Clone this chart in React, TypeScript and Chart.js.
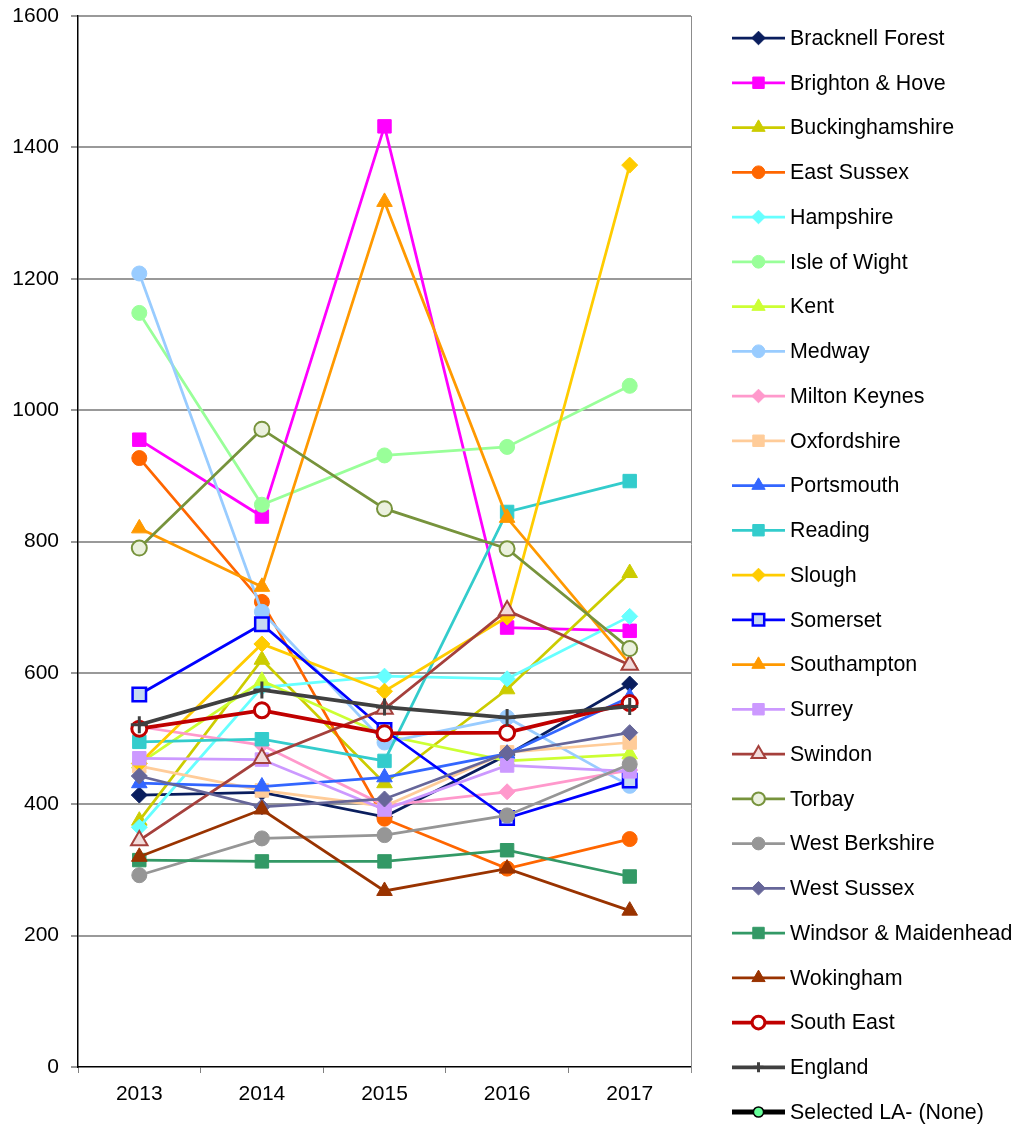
import React, { useEffect, useRef } from 'react';
import { Chart, registerables } from 'chart.js';
import { drawPoint } from 'chart.js/helpers';

Chart.register(...registerables);

// ---------- data ----------
const years = ['2013', '2014', '2015', '2016', '2017'];

const bracknellForest = [414, 418, 381, 475, 583];
const brightonHove = [955, 838, 1432, 669, 664];
const buckinghamshire = [375, 620, 432, 575, 752];
const eastSussex = [927, 708, 378, 302, 347];
const hampshire = [365, 578, 595, 591, 686];
const isleOfWight = [1148, 856, 931, 944, 1037];
const kent = [462, 588, 505, 466, 476];
const medway = [1208, 693, 494, 532, 428];
const miltonKeynes = [518, 490, 398, 419, 452];
const oxfordshire = [458, 421, 397, 479, 494];
const portsmouth = [432, 427, 441, 477, 563];
const reading = [495, 499, 466, 845, 892];
const slough = [462, 644, 572, 685, 1373];
const somerset = [567, 674, 513, 379, 436];
const southampton = [820, 731, 1317, 836, 614];
const surrey = [470, 468, 392, 459, 450];
const swindon = [345, 470, 545, 695, 612];
const torbay = [790, 971, 850, 789, 637];
const westBerkshire = [292, 348, 353, 383, 461];
const westSussex = [443, 396, 408, 478, 509];
const windsorMaidenhead = [315, 313, 313, 330, 290];
const wokingham = [320, 392, 268, 302, 238];
const southEast = [515, 543, 508, 509, 554];
const england = [521, 574, 548, 532, 549];
const selectedLA: (number | null)[] = [null, null, null, null, null];

const seriesNames = [
  'Bracknell Forest', 'Brighton & Hove', 'Buckinghamshire', 'East Sussex', 'Hampshire',
  'Isle of Wight', 'Kent', 'Medway', 'Milton Keynes', 'Oxfordshire', 'Portsmouth',
  'Reading', 'Slough', 'Somerset', 'Southampton', 'Surrey', 'Swindon', 'Torbay',
  'West Berkshire', 'West Sussex', 'Windsor & Maidenhead', 'Wokingham', 'South East',
  'England', 'Selected LA- (None)',
];

const seriesValues = [
  bracknellForest, brightonHove, buckinghamshire, eastSussex, hampshire,
  isleOfWight, kent, medway, miltonKeynes, oxfordshire, portsmouth,
  reading, slough, somerset, southampton, surrey, swindon, torbay,
  westBerkshire, westSussex, windsorMaidenhead, wokingham, southEast,
  england, selectedLA,
];

const yMin = 0;
const yMax = 1600;
const yStep = 200;

// ---------- styles ----------
type SeriesStyle = {
  color: string;
  marker: string;
  r: number;
  fill?: string;
  bw?: number;
  lw?: number;
};

const seriesStyles: SeriesStyle[] = [
  { color: '#0A1E5E', marker: 'rectRot', r: 8 },
  { color: '#FF00FF', marker: 'rect', r: 9.5 },
  { color: '#CCCC00', marker: 'triangle', r: 9 },
  { color: '#FF6600', marker: 'circle', r: 7.5 },
  { color: '#66FFFF', marker: 'rectRot', r: 8 },
  { color: '#99FF99', marker: 'circle', r: 7.5 },
  { color: '#CCFF33', marker: 'triangle', r: 9 },
  { color: '#99CCFF', marker: 'circle', r: 7.5 },
  { color: '#FF99CC', marker: 'rectRot', r: 8 },
  { color: '#FFCC99', marker: 'rect', r: 9.5 },
  { color: '#3366FF', marker: 'triangle', r: 9 },
  { color: '#33CCCC', marker: 'rect', r: 9.5 },
  { color: '#FFCC00', marker: 'rectRot', r: 8 },
  { color: '#0000FF', marker: 'rect', r: 9.5, fill: '#C6D9F1', bw: 2.5 },
  { color: '#FF9900', marker: 'triangle', r: 9 },
  { color: '#CC99FF', marker: 'rect', r: 9.5 },
  { color: '#A5403C', marker: 'triangle', r: 9.5, fill: '#F2DCDB', bw: 2 },
  { color: '#77933C', marker: 'circle', r: 7.5, fill: '#EBF1DE', bw: 2 },
  { color: '#969696', marker: 'circle', r: 7.5 },
  { color: '#666699', marker: 'rectRot', r: 8 },
  { color: '#339966', marker: 'rect', r: 9.5 },
  { color: '#993300', marker: 'triangle', r: 9 },
  { color: '#C00000', marker: 'circle', r: 7.5, fill: '#FFFFFF', bw: 3, lw: 3.75 },
  { color: '#404040', marker: 'cross', r: 8.5, bw: 3, lw: 3.75 },
  { color: '#000000', marker: 'circle', r: 6, fill: '#66FF99', bw: 1.5, lw: 5 },
];

const FONT = '"Liberation Sans", Arial, Helvetica, sans-serif';

const sideLegend = {
  id: 'sideLegend',
  afterDraw(chart: any) {
    const { ctx, chartArea } = chart;
    const x0 = chartArea.right + 41;
    const x1 = x0 + 53;
    const xm = (x0 + x1) / 2;
    const n = chart.data.datasets.length;
    const top = 38;
    const step = (chart.height - 15 - top) / (n - 1);
    ctx.save();
    chart.data.datasets.forEach((ds: any, i: number) => {
      const y = top + i * step;
      ctx.strokeStyle = ds.borderColor;
      ctx.lineWidth = ds.borderWidth;
      ctx.lineCap = 'butt';
      ctx.beginPath();
      ctx.moveTo(x0, y);
      ctx.lineTo(x1, y);
      ctx.stroke();
      ctx.fillStyle = ds.pointBackgroundColor;
      ctx.strokeStyle = ds.pointBorderColor;
      ctx.lineWidth = ds.pointBorderWidth;
      drawPoint(ctx, {
        pointStyle: ds.pointStyle,
        radius: ds.pointStyle === 'cross' ? 5 : ds.pointRadius * 0.85,
        rotation: 0,
        borderWidth: ds.pointBorderWidth,
      } as any, xm, y);
      ctx.fillStyle = '#000000';
      ctx.font = `21.4px ${FONT}`;
      ctx.textAlign = 'left';
      ctx.textBaseline = 'middle';
      ctx.fillText(ds.label, x1 + 5, y + 1);
    });
    ctx.restore();
  },
};

const rightBorder = {
  id: 'rightBorder',
  beforeDatasetsDraw(chart: any) {
    const { ctx, chartArea } = chart;
    ctx.save();
    ctx.strokeStyle = '#8C8C8C';
    ctx.lineWidth = 1;
    ctx.beginPath();
    ctx.moveTo(Math.round(chartArea.right) + 0.5, chartArea.top);
    ctx.lineTo(Math.round(chartArea.right) + 0.5, chartArea.bottom + 6);
    ctx.stroke();
    ctx.restore();
  },
};

export default function App() {
  const ref = useRef<HTMLCanvasElement | null>(null);

  useEffect(() => {
    if (!ref.current) return;
    const datasets = seriesNames.map((name, i) => {
      const s = seriesStyles[i];
      return {
        label: name,
        data: seriesValues[i],
        borderColor: s.color,
        backgroundColor: s.color,
        borderWidth: s.lw ?? 2.75,
        pointStyle: s.marker,
        pointRadius: s.r,
        pointHoverRadius: s.r,
        pointBackgroundColor: s.fill ?? s.color,
        pointBorderColor: s.color,
        pointBorderWidth: s.bw ?? 1,
        tension: 0,
        fill: false,
        order: -i,
      };
    });

    const chart = new Chart(ref.current, {
      type: 'line',
      data: { labels: years, datasets: datasets as any },
      options: {
        responsive: false,
        animation: false,
        layout: { padding: { top: 16, right: 323, left: 0, bottom: 0 } },
        plugins: {
          legend: { display: false },
          tooltip: { enabled: false },
        },
        scales: {
          x: {
            offset: true,
            afterFit: (scale: any) => {
              scale.height = 60;
              scale.paddingLeft = 0;
              scale.paddingRight = 0;
            },
            grid: {
              offset: true,
              drawOnChartArea: false,
              drawTicks: true,
              tickLength: 6,
              color: '#808080',
            },
            border: { color: '#000000', width: 1.5 },
            ticks: {
              color: '#000000',
              font: { family: FONT, size: 21 },
              padding: 9,
            },
          },
          y: {
            min: yMin,
            max: yMax,
            afterFit: (scale: any) => {
              scale.width = 78;
              scale.paddingTop = 0;
              scale.paddingBottom = 0;
            },
            grid: {
              color: (c: any) => (c.tick && c.tick.value === 0 ? 'rgba(0,0,0,0)' : '#999999'),
              tickColor: '#999999',
              lineWidth: 2,
              drawTicks: true,
              tickLength: 7,
            },
            border: { color: '#000000', width: 1.5 },
            ticks: {
              stepSize: yStep,
              color: '#000000',
              font: { family: FONT, size: 21 },
              padding: 12,
              callback: (v: any) => String(v),
            },
          },
        },
      },
      plugins: [rightBorder, sideLegend],
    });
    return () => chart.destroy();
  }, []);

  return (
    <div style={{ position: 'absolute', left: 0, top: 0, width: 1014, height: 1127, background: '#ffffff' }}>
      <canvas ref={ref} width={1014} height={1127} style={{ display: 'block' }} />
    </div>
  );
}
